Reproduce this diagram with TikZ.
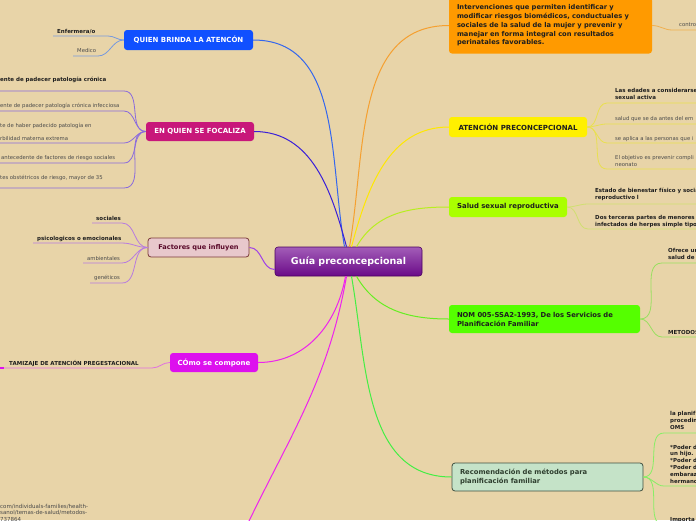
\documentclass[tikz,border=0pt]{standalone}
\usepackage{fontspec}
\setmainfont{DejaVu Sans}
\definecolor{bg}{HTML}{E8D4A8}
\definecolor{blueb}{HTML}{1050FF}
\definecolor{bluec}{HTML}{3366EE}
\definecolor{bluel}{HTML}{7799DD}
\definecolor{focb}{HTML}{C8177A}
\definecolor{focc}{HTML}{3A1FD8}
\definecolor{focl}{HTML}{8A6ADD}
\definecolor{facb}{HTML}{E8C8CC}
\definecolor{facd}{HTML}{7A3A3A}
\definecolor{fact}{HTML}{5A0A2A}
\definecolor{facc}{HTML}{A040E8}
\definecolor{facl}{HTML}{B77AE0}
\definecolor{comb}{HTML}{DD10EE}
\definecolor{comc}{HTML}{EE22EE}
\definecolor{coml}{HTML}{E070E0}
\definecolor{cenT}{HTML}{A35DB8}
\definecolor{cenB}{HTML}{6A0A88}
\definecolor{cenD}{HTML}{4A0060}
\definecolor{orab}{HTML}{FF9A00}
\definecolor{orac}{HTML}{F5A030}
\definecolor{oral}{HTML}{F0B050}
\definecolor{yelb}{HTML}{FFF000}
\definecolor{yelc}{HTML}{FFE800}
\definecolor{yell}{HTML}{E8E050}
\definecolor{limb}{HTML}{AAFF00}
\definecolor{limc}{HTML}{B8EE20}
\definecolor{liml}{HTML}{D0E070}
\definecolor{greb}{HTML}{55FF00}
\definecolor{grec}{HTML}{66EE22}
\definecolor{grel}{HTML}{99E060}
\definecolor{recb}{HTML}{C5E3C8}
\definecolor{recd}{HTML}{405040}
\definecolor{rect}{HTML}{2F3F2F}
\definecolor{recc}{HTML}{44EE44}
\definecolor{recl}{HTML}{88EE66}
\definecolor{txtd}{HTML}{1E1E1E}
\definecolor{txtr}{HTML}{4A4A4A}
\newcommand{\mlines}[1]{\begin{tabular}[t]{@{}l@{}}#1\end{tabular}}
\begin{document}
\begin{tikzpicture}[x=1pt,y=-1pt,
  box/.style={rounded corners=3pt, inner sep=0pt, font=\fontsize{7}{8.5}\selectfont\bfseries, align=center},
  lbb/.style={anchor=base west, inner sep=0pt, text=txtd, font=\fontsize{5.5}{7}\selectfont\bfseries},
  lbr/.style={anchor=base west, inner sep=0pt, text=txtr, font=\fontsize{5.3}{7}\selectfont},
  main/.style={line width=1pt},
  sub/.style={line width=0.8pt}]
\useasboundingbox (0,0) rectangle (696,520);
\clip (0,0) rectangle (696,520);
\fill[bg] (0,0) rectangle (696,520);

% central
\node[box, draw=cenD, line width=0.6pt, top color=cenT, bottom color=cenB, text=white,
  minimum width=147, minimum height=29, font=\fontsize{9.5}{11}\selectfont\bfseries] (cen) at (348.5,261.5) {Guía preconcepcional};

% left main nodes
\node[box, fill=blueb, text=white, minimum width=129, minimum height=20] (quien) at (188.5,40) {QUIEN BRINDA LA ATENCÓN};
\node[box, fill=focb, text=white, minimum width=108, minimum height=19] (focal) at (200,131.5) {EN QUIEN SE FOCALIZA};
\node[box, fill=facb, draw=facd, line width=0.8pt, text=fact, minimum width=101, minimum height=19, font=\fontsize{6.6}{8}\selectfont\bfseries] (fact) at (198.5,247.5) {Factores que influyen};
\node[box, fill=comb, text=white, minimum width=88, minimum height=19] (como) at (214,362.5) {CÓmo se compone};
\coordinate (bot) at (240,540);

% right main nodes
\node[box, fill=orab, text=txtd, text width=187, inner xsep=8, minimum height=56, align=left,
  font=\fontsize{6.7}{8.7}\selectfont\bfseries] (ora) at (550.5,25.5) {Intervenciones que permiten identificar y\\modificar riesgos biomédicos, conductuales y\\sociales de la salud de la mujer y prevenir y\\manejar en forma integral con resultados\\perinatales favorables.};
\node[box, fill=yelb, text=txtd, minimum width=138, minimum height=20] (yel) at (518,127) {ATENCIÓN PRECONCEPCIONAL};
\node[box, fill=limb, text=txtd, minimum width=118, minimum height=20, font=\fontsize{6.9}{8.5}\selectfont\bfseries] (lim) at (508,207) {Salud sexual reproductiva};
\node[box, fill=greb, text=txtd, text width=175, inner xsep=8, minimum height=28, align=left,
  font=\fontsize{6.8}{9}\selectfont\bfseries] (nom) at (544.5,319) {NOM 005-SSA2-1993, De los Servicios de\\Planificación Familiar};
\node[box, fill=recb, draw=recd, line width=0.8pt, text=rect, text width=175, inner xsep=8, minimum height=28, align=left,
  font=\fontsize{6.8}{9}\selectfont\bfseries] (rec) at (547.5,477) {Recomendación de métodos para\\planificación familiar};

% main connectors
\draw[main, bluec] (quien.east) to[out=0,in=100] ([xshift=-4]cen.north);
\draw[main, focc] (focal.east) to[out=0,in=105] ([xshift=-2]cen.north);
\draw[main, facc] (fact.east) to[out=0,in=180] ([yshift=-8]cen.west);
\draw[main, comc] (como.east) to[out=0,in=-100] ([xshift=-3]cen.south);
\draw[main, comc] ([xshift=-2]cen.south) to[out=-100,in=65] (bot);
\draw[main, orac] ([xshift=1]cen.north) to[out=80,in=180] (ora.west);
\draw[main, yelc] ([xshift=3]cen.north) to[out=75,in=180] (yel.west);
\draw[main, limc] ([xshift=8]cen.north) to[out=60,in=180] (lim.west);
\draw[main, grec] ([xshift=8]cen.south) to[out=-60,in=180] (nom.west);
\draw[main, recc] ([xshift=3]cen.south) to[out=-80,in=180] (rec.west);

% quien children
\node[lbb] (q1) at (57,33) {Enfermera/o};
\node[lbr] (q2) at (77,52) {Medico};
\draw[sub, bluel] (53,36) -- (108,36) to[out=0,in=180] (quien.west);
\draw[sub, bluel] (73,56) -- (98,56) to[out=0,in=180] (quien.west);

% focal children
\node[lbb] (f1) at (0,81) {ente de padecer patología crónica};
\node[lbr] (f2) at (0,107) {ente de padecer patología crónica infecciosa};
\node[lbr] (f3) at (0,127) {\mlines{te de haber padecido patología en\\[6pt]rbilidad materna extrema}};
\node[lbr] (f4) at (1,159) {antecedente de factores de riesgo sociales};
\node[lbr] (f5) at (0,179) {tes obstétricos de riesgo, mayor de 35};
\foreach \y in {91,111,143,163,188}
  \draw[sub, focl] (0,\y) -- (124,\y) to[out=0,in=180] (focal.west);

% factores children
\node[lbb] (g1) at (96,220) {sociales};
\node[lbb] (g2) at (37,240) {psicologicos o emocionales};
\node[lbr] (g3) at (87,260) {ambientales};
\node[lbr] (g4) at (94,279) {genéticos};
\draw[sub, facl] (92,223) -- (122,223) to[out=0,in=180] (fact.west);
\draw[sub, facl] (33,243) -- (122,243) to[out=0,in=180] (fact.west);
\draw[sub, facl] (83,263) -- (122,263) to[out=0,in=180] (fact.west);
\draw[sub, facl] (90,283) -- (122,283) to[out=0,in=180] (fact.west);

% como child
\node[lbb] (c1) at (9,365) {TAMIZAJE DE ATENCIÓN PREGESTACIONAL};
\draw[sub, coml] (0,368) -- (152,368) to[out=0,in=180] (como.west);
\draw[line width=2pt, comb] (0,368) -- (4,368);

% bottom link text
\node[lbr, font=\fontsize{5.5}{6.5}\selectfont] (b1) at (0,508) {\mlines{com/individuals-families/health-\\sanol/temas-de-salud/metodos-\\737864}};

% orange child
\node[lbr] (o1) at (679,26) {contro};
\draw[sub, oral] (ora.east) to[out=0,in=180] (672,30) -- (696,30);

% yellow children
\node[lbb] (y1) at (615,92) {\mlines{Las edades a considerarse\\sexual activa}};
\node[lbr] (y2) at (615,120) {salud que se da antes del em};
\node[lbr] (y3) at (615,140) {se aplica a las personas que i};
\node[lbr] (y4) at (615,159) {\mlines{El objetivo es prevenir compli\\neonato}};
\foreach \y in {103,124,143,169}
  \draw[sub, yell] (yel.east) to[out=0,in=180] (607,\y) -- (696,\y);

% lime children
\node[lbb] (l1) at (595,192) {\mlines{Estado de bienestar físico y socia\\reproductivo l}};
\node[lbb] (l2) at (595,219) {\mlines{Dos terceras partes de menores d\\infectados de herpes simple tipo}};
\foreach \y in {204,229}
  \draw[sub, liml] (lim.east) to[out=0,in=180] (588,\y) -- (696,\y);

% nom children
\node[lbb] (n1) at (668,252) {\mlines{Ofrece un\\salud de l}};
\node[lbb] (n2) at (668,334) {METODOS};
\foreach \y in {263,337}
  \draw[sub, grel] (nom.east) to[out=0,in=180] (662,\y) -- (696,\y);

% rec children
\node[lbb] (r1) at (670,415) {\mlines{la planif\\procedin\\OMS}};
\node[lbb, font=\fontsize{5.5}{6.8}\selectfont\bfseries] (r2) at (670,449) {\mlines{{}*Poder d\\{}un hijo.\\{}*Poder d\\{}*Poder d\\{}embaraz\\{}hermano}};
\node[lbb] (r3) at (670,521) {Importa};
\foreach \y in {433,486,525}
  \draw[sub, recl] (rec.east) to[out=0,in=180] (664,\y) -- (696,\y);
\end{tikzpicture}
\end{document}
